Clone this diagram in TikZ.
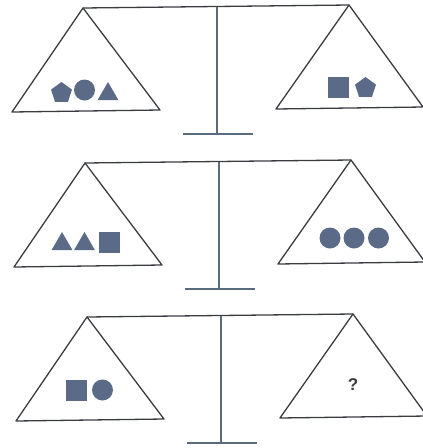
\documentclass[tikz,border=0pt]{standalone}
\usepackage{fontspec}
\newfontfamily\qfont{Liberation Sans}
\usetikzlibrary{shapes.geometric}
\definecolor{pangray}{HTML}{3A3C40}
\definecolor{postblue}{HTML}{5A6B7E}
\definecolor{tokblue}{HTML}{5B6A86}
\begin{document}
\begin{tikzpicture}[x=1pt,y=-1pt,
 pan/.style={draw=pangray,line width=1.3pt,line join=round},
 post/.style={draw=postblue,line width=2.6pt},
 tok/.style={fill=tokblue,inner sep=0pt,outer sep=0pt},
 disc/.style={tok,circle,minimum size=21pt},
 block/.style={tok,rectangle,minimum size=21pt},
 penta/.style={tok,regular polygon,regular polygon sides=5,minimum size=22pt},
 tri/.style={tok,regular polygon,regular polygon sides=3,minimum size=24pt}]
\useasboundingbox (0,0) rectangle (423,448);
% three balances, each shifted a little
\foreach \n/\dx/\dy in {1/0/0,2/2/155,3/4/309}{
  \begin{scope}[shift={(\dx,\dy)}]
    \coordinate (la\n) at (83,8);
    \coordinate (ra\n) at (349,5);
    \coordinate (mid\n) at (217,6.5);
    \coordinate (foot\n) at (217,134);
    \draw[pan] (la\n) -- (12,112) -- (160,110) -- cycle;
    \draw[pan] (ra\n) -- (276,109) -- (423,107) -- cycle;
    \draw[pan] (la\n) -- (ra\n);
    \draw[post] (mid\n) -- (foot\n);
    \draw[post] (183,134) -- (253,134);
  \end{scope}
}
% top balance
\node[penta] (p1) at (61.5,93) {};
\node[disc] (c1) at (84.5,90) {};
\node[tri] (t1) at (108,94) {};
\node[block] (s1) at (338.5,87.5) {};
\node[penta] (p2) at (365.5,88) {};
% middle balance
\node[tri] (t2) at (62,244) {};
\node[tri] (t3) at (84.5,244) {};
\node[block] (s2) at (109.5,242) {};
\node[disc] (c2) at (330,238) {};
\node[disc] (c3) at (354,238) {};
\node[disc] (c4) at (378.5,238) {};
% bottom balance
\node[block] (s3) at (76,390.5) {};
\node[disc] (c5) at (102.5,390) {};
\node[font=\qfont\bfseries\fontsize{17}{17}\selectfont,text=pangray] (q) at (353,385) {?};
\end{tikzpicture}
\end{document}
